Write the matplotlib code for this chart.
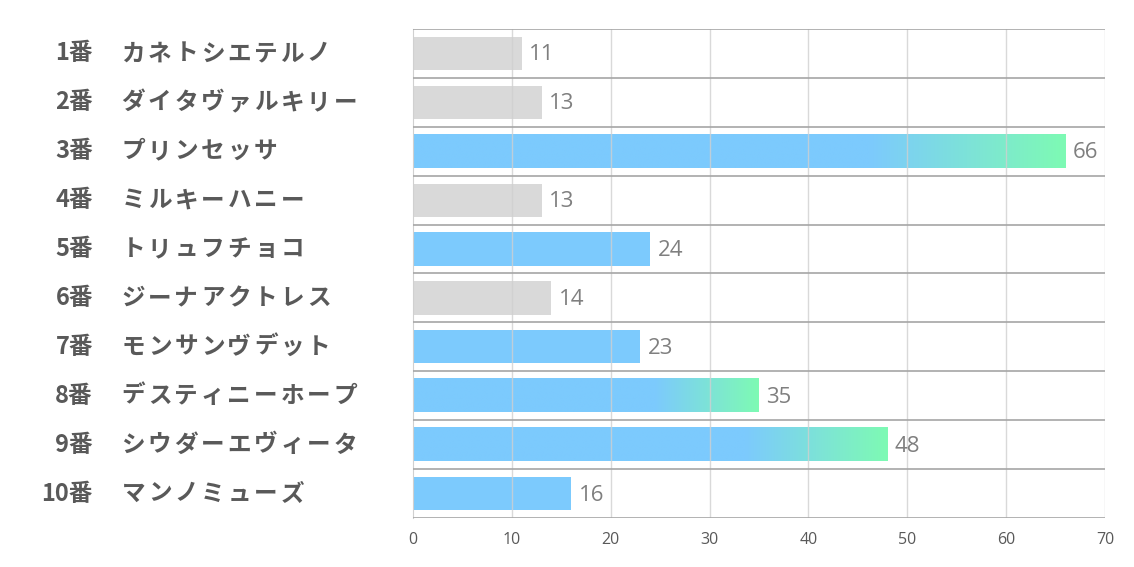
import numpy as np
import matplotlib
matplotlib.use("Agg")
from matplotlib import pyplot as plt
from matplotlib.colors import LinearSegmentedColormap
from matplotlib import transforms

plt.rcParams['font.family'] = ['Noto Sans CJK JP', 'DejaVu Sans']

# data
numbers = ["1番", "2番", "3番", "4番", "5番", "6番", "7番", "8番", "9番", "10番"]
names = ["カネトシエテルノ", "ダイタヴァルキリー", "プリンセッサ", "ミルキーハニー", "トリュフチョコ",
         "ジーナアクトレス", "モンサンヴデット", "デスティニーホープ", "シウダーエヴィータ", "マンノミューズ"]
values = [11, 13, 66, 13, 24, 14, 23, 35, 48, 16]
kind = ["gray", "gray", "grad", "gray", "blue", "gray", "blue", "grad", "grad", "blue"]

BLUE = "#7ccafd"
GREEN = "#7efab4"
GRAY = "#d9d9d9"
TXT = "#595959"

fig = plt.figure(figsize=(11.34, 5.67), dpi=100)
ax = fig.add_axes([0.3642, 0.0864, 0.6102, 0.8625])

cmap = LinearSegmentedColormap.from_list("bg", [BLUE, GREEN])
h = 0.68
n = len(values)
for i, (v, k) in enumerate(zip(values, kind)):
    if k == "grad":
        xs = np.linspace(0, 1, 300)
        grad = np.clip((xs - 0.7) / 0.3, 0, 1).reshape(1, -1)
        ax.imshow(grad, cmap=cmap, aspect="auto", extent=[0, v, i + h / 2, i - h / 2],
                  vmin=0, vmax=1, zorder=1, interpolation="bilinear")
    else:
        ax.barh(i, v, height=h, color=GRAY if k == "gray" else BLUE, zorder=1)
    ax.text(v + 0.75, i + 0.03, str(v), va="center", ha="left", fontsize=16,
            color="#7f7f7f", family=["Open Sans", "DejaVu Sans"])

ax.set_xlim(0, 70)
ax.set_ylim(n - 0.5, -0.5)
ax.set_xticks(range(0, 71, 10))
ax.set_yticks([])
ax.tick_params(axis="x", length=0, pad=10, labelsize=11.5, labelcolor=TXT)
for lab in ax.get_xticklabels():
    lab.set_family(["Open Sans", "DejaVu Sans"])

# vertical grid
for x in range(10, 71, 10):
    ax.axvline(x, color="#d0d0d0", lw=1, zorder=2, alpha=0.8)
# row separators
for b in np.arange(-0.5, n, 1):
    ax.axhline(b, color="#a6a6a6", lw=1.2, zorder=3)

for s in ["top", "right", "bottom"]:
    ax.spines[s].set_visible(False)
ax.spines["left"].set_color("#d0d0d0")

# labels on the left
tr = transforms.blended_transform_factory(fig.transFigure, ax.transData)
adv = 26.5 / 100  # inches per character
for i, (num, name) in enumerate(zip(numbers, names)):
    ax.text(0.082, i, num, transform=tr, ha="right", va="center", fontsize=17,
            fontweight="bold", color=TXT)
    for j, ch in enumerate(name):
        off = transforms.ScaledTranslation(0.13 + j * adv, 0, fig.dpi_scale_trans)
        ax.text(0.106, i, ch, transform=tr + off, ha="center", va="center",
                fontsize=17, fontweight="bold", color=TXT)

fig.savefig("out.png", dpi=100)
